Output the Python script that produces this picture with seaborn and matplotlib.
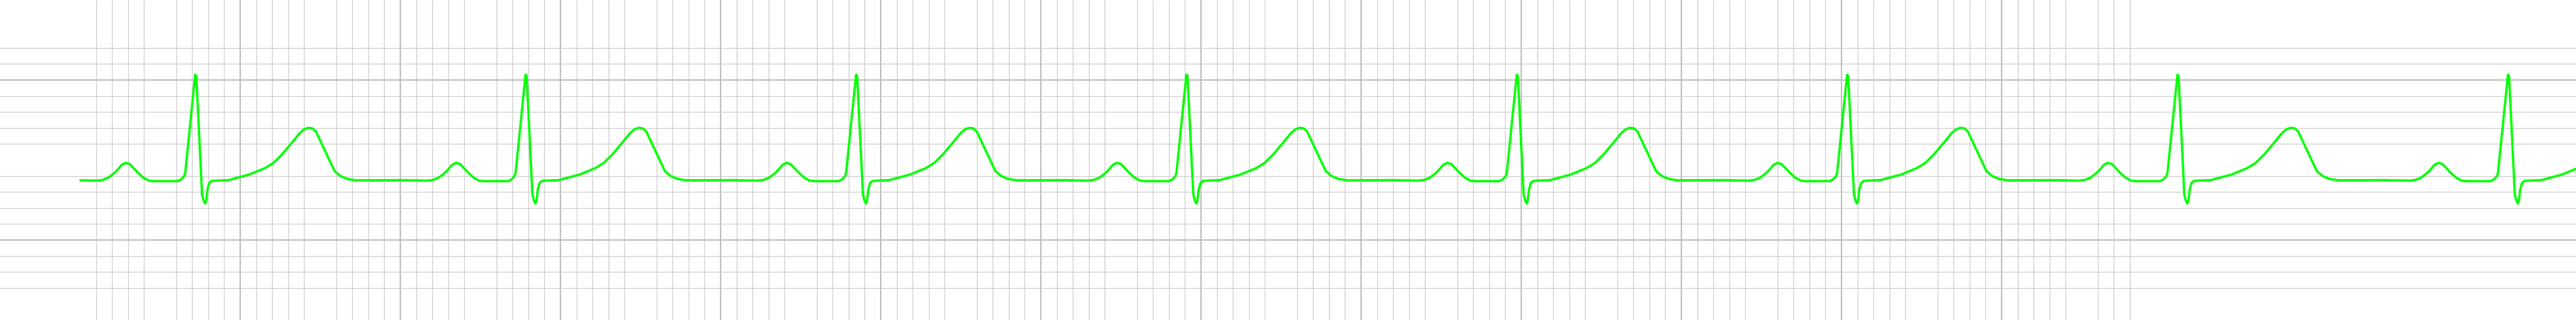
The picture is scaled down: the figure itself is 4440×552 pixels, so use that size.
import numpy as np
import pandas as pd
import matplotlib
matplotlib.use("Agg")
import matplotlib.pyplot as plt
import seaborn as sns

# Papel de ECG: unidades em mm (1 quadradinho = 1 mm)
# Um batimento, medido a partir do pico R (x em mm, amplitude em mm)
beat_dx = [-7.17, -6.16, -5.80, -5.43, -5.07, -4.82, -4.60, -4.35, -4.09, -3.62,
           -3.26, -2.90, -2.54, -1.09, -0.87, -0.69, -0.62, 0.00, 0.07, 0.43,
           0.54, 0.62, 0.69, 0.76, 0.87, 1.01, 1.23, 2.07, 3.37, 4.35,
           4.89, 5.43, 5.98, 6.52, 6.81, 7.07, 7.32, 7.54, 8.70, 9.06,
           9.49, 10.04, 13.19, 13.44]
beat_mv = [-1.27, -1.29, -1.25, -1.11, -0.83, -0.58, -0.31, -0.18, -0.25, -0.75,
           -1.09, -1.29, -1.32, -1.32, -1.21, -1.01, -0.80, 5.33, 5.25, -2.17,
           -2.57, -2.72, -2.54, -1.88, -1.45, -1.32, -1.29, -1.26, -0.91, -0.51,
           -0.18, 0.36, 1.01, 1.67, 1.92, 2.01, 1.98, 1.78, -0.69, -1.00,
           -1.18, -1.27, -1.26, -1.28]

# posição dos picos R (mm)
r_peaks = [2.19, 22.82, 43.46, 64.09, 84.72, 105.35, 125.98, 146.62]

# grade
x_min, x_max = -10, 150.87
y_min, y_max = -10, 10
grid_x = [v for v in range(-4, 124) if v % 10 != 0]
grid_y = [v for v in range(-8, 8) if v != 0]
grid_x_major = [v for v in grid_x if v % 10 == 5]
grid_y_major = [v for v in grid_y if abs(v) == 5]

frames = []
for r in r_peaks:
    frames.append(pd.DataFrame({"t": np.array(beat_dx) + r, "mv": beat_mv}))
df = pd.concat(frames, ignore_index=True)

sns.set_style("white")
fig = plt.figure(figsize=(44.4, 5.52), dpi=100)
ax = fig.add_axes([0, 0, 1, 1])

sns.lineplot(data=df, x="t", y="mv", sort=False, estimator=None, ax=ax,
             color="#00ff00", linewidth=2.9)
ax.lines[0].set_solid_joinstyle("round")
ax.lines[0].set_solid_capstyle("round")

ax.set_xlim(x_min, x_max)
ax.set_ylim(y_min, y_max)
ax.set_xticks(grid_x_major)
ax.set_xticks([v for v in grid_x if v not in grid_x_major], minor=True)
ax.set_yticks(grid_y_major)
ax.set_yticks([v for v in grid_y if v not in grid_y_major], minor=True)
ax.grid(which="major", color="#bababa", linewidth=1.6)
ax.grid(which="minor", color="#c6c6c6", linewidth=0.8)
ax.set_axisbelow(True)
ax.tick_params(which="both", length=0, labelbottom=False, labelleft=False)
ax.set_xlabel("")
ax.set_ylabel("")
for s in ax.spines.values():
    s.set_visible(False)

fig.savefig("out.png", dpi=100)
